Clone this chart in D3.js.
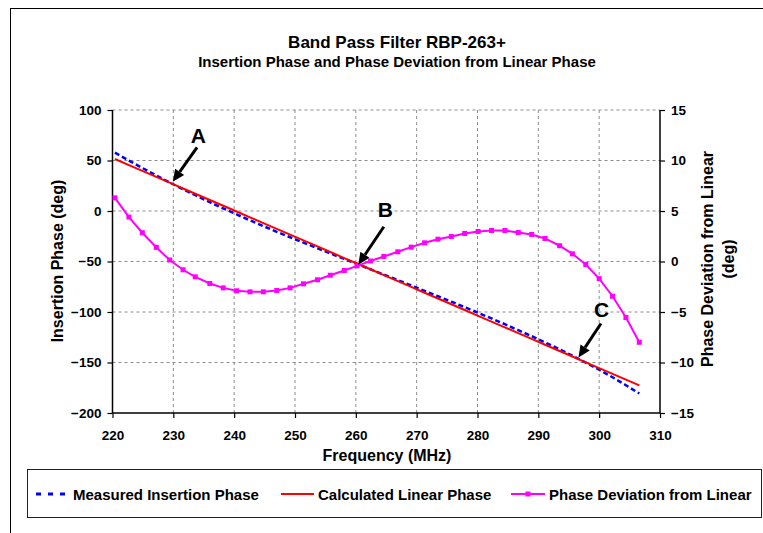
<!DOCTYPE html>
<html><head><meta charset="utf-8">
<script src="https://cdn.jsdelivr.net/npm/d3@7"></script>
<style>
html,body{margin:0;padding:0;background:#fff;}
text{font-family:"Liberation Sans",Arial,sans-serif;font-weight:bold;fill:#000;}
</style></head>
<body><svg id="c" width="763" height="533"></svg>
<script>
// ---- data ----
const freq = [220.4,222.7,224.9,227.2,229.4,231.6,233.6,236.0,238.2,240.4,242.6,244.8,247.0,249.2,251.4,253.7,255.8,258.1,260.2,262.4,264.6,266.9,269.1,271.3,273.5,275.7,277.9,280.1,282.3,284.5,286.7,288.9,291.1,293.5,295.6,297.8,300.0,302.2,304.4,306.6];
const measured = [57.8,49.9,42.6,35.2,28.2,21.5,15.6,8.7,2.6,-3.4,-9.3,-15.0,-20.6,-26.0,-31.3,-36.9,-42.0,-47.5,-52.4,-57.7,-63.0,-68.4,-73.8,-79.1,-84.4,-89.8,-95.2,-100.8,-106.4,-112.1,-118.0,-123.9,-130.1,-137.0,-143.3,-150.1,-157.2,-164.6,-172.5,-180.7];
const linear = [51.5,45.5,39.8,33.8,28.1,22.3,17.1,10.9,5.2,-0.5,-6.3,-12.0,-17.7,-23.4,-29.1,-35.1,-40.6,-46.6,-52.0,-57.7,-63.5,-69.4,-75.2,-80.9,-86.6,-92.3,-98.0,-103.8,-109.5,-115.2,-120.9,-126.6,-132.4,-138.6,-144.1,-149.8,-155.5,-161.2,-166.9,-172.7];
const deviation = [6.3,4.4,2.85,1.4,0.15,-0.82,-1.52,-2.18,-2.61,-2.9,-3.0,-3.0,-2.87,-2.61,-2.21,-1.81,-1.36,-0.89,-0.43,0.05,0.5,0.96,1.42,1.85,2.21,2.48,2.78,2.97,3.07,3.07,2.87,2.68,2.28,1.56,0.76,-0.3,-1.7,-3.44,-5.55,-8.0];
const xTicks = [220,230,240,250,260,270,280,290,300,310];
const yLeftTicks = [-200,-150,-100,-50,0,50,100];
const yRightTicks = [-15,-10,-5,0,5,10,15];
const titleLines = ["Band Pass Filter RBP-263+","Insertion Phase and Phase Deviation from Linear Phase"];
const seriesNames = ["Measured Insertion Phase","Calculated Linear Phase","Phase Deviation from Linear"];
// annotations: [label, tipFreq, tipPhase, tailFreq, tailPhase, labelFreq, labelPhase]
const annotations = [
  ["A",229.9,29,233.9,63,234.1,67],
  ["B",260.4,-53.2,264.6,-15.6,264.85,-5.6],
  ["C",296.6,-145,300.3,-111.4,300.4,-104.7]
];

// ---- layout ----
const svg = d3.select("#c");
const L = 112.5, R = 660, T = 110, B = 413;
const x = d3.scaleLinear().domain([220,310]).range([L,R]);
const yL = d3.scaleLinear().domain([-200,100]).range([B,T]);
const yR = d3.scaleLinear().domain([-15,15]).range([B,T]);

// outer frame (open at right/bottom)
svg.append("rect").attr("x",10.5).attr("y",8.5).attr("width",900).attr("height",700)
  .attr("fill","none").attr("stroke","#000").attr("stroke-width",1);

// title
const titleSize = [17,15];
svg.append("g").selectAll("text").data(titleLines).join("text")
  .attr("x",397).attr("y",(d,i)=>48+i*19).attr("text-anchor","middle")
  .style("font-size",(d,i)=>titleSize[i]+"px").text(d=>d);

// gridlines
const grid = svg.append("g").attr("stroke","#8c8c8c").attr("stroke-width",1).attr("stroke-dasharray","3,3");
grid.selectAll("line.v").data(xTicks.filter(d=>d>220&&d<310)).join("line")
  .attr("x1",d=>x(d)).attr("x2",d=>x(d)).attr("y1",T).attr("y2",B);
grid.selectAll("line.h").data(yLeftTicks.filter(d=>d>-200)).join("line")
  .attr("x1",L).attr("x2",R).attr("y1",d=>yL(d)).attr("y2",d=>yL(d));

// axes
const fmt = d3.format("d");
const axL = svg.append("g").attr("transform",`translate(${L},0)`)
  .call(d3.axisLeft(yL).tickValues(yLeftTicks).tickSize(5).tickPadding(6).tickFormat(fmt));
const axR = svg.append("g").attr("transform",`translate(${R},0)`)
  .call(d3.axisRight(yR).tickValues(yRightTicks).tickSize(5).tickPadding(6).tickFormat(fmt));
const axB = svg.append("g").attr("transform",`translate(0,${B})`)
  .call(d3.axisBottom(x).tickValues(xTicks).tickSize(5).tickPadding(12).tickFormat(fmt));
[axL,axR,axB].forEach(g=>{
  g.select(".domain").attr("stroke","#000").attr("stroke-width",1.5);
  g.selectAll(".tick line").attr("stroke","#000").attr("stroke-width",1.2);
  g.selectAll(".tick text").style("font-size","13.5px").style("font-family","Liberation Sans, Arial, sans-serif").style("font-weight","bold");
});
axL.select(".domain").attr("d",`M0,${T}V${B}`);
axR.select(".domain").attr("d",`M0,${T}V${B}`);
axB.select(".domain").attr("d",`M${L},0H${R}`);

// axis titles
svg.append("text").attr("transform","translate(62.5,261) rotate(-90)").attr("text-anchor","middle")
  .style("font-size","16px").text("Insertion Phase (deg)");
svg.append("text").attr("transform","translate(713,259) rotate(-90)").attr("text-anchor","middle")
  .style("font-size","16px").text("Phase Deviation from Linear");
svg.append("text").attr("transform","translate(734,259) rotate(-90)").attr("text-anchor","middle")
  .style("font-size","16px").text("(deg)");
svg.append("text").attr("x",387).attr("y",461).attr("text-anchor","middle")
  .style("font-size","16px").text("Frequency (MHz)");

// series
const idx = d3.range(freq.length);
const lineL = arr => d3.line().x(i=>x(freq[i])).y(i=>yL(arr[i]));
svg.append("path").datum(idx).attr("d",lineL(measured)).attr("fill","none")
  .attr("stroke","#0000ff").attr("stroke-width",2.5).attr("stroke-dasharray","5,3");
svg.append("path").datum(idx).attr("d",lineL(linear)).attr("fill","none")
  .attr("stroke","#ff0000").attr("stroke-width",2);
svg.append("path").datum(idx).attr("d",d3.line().x(i=>x(freq[i])).y(i=>yR(deviation[i]))).attr("fill","none")
  .attr("stroke","#ff00ff").attr("stroke-width",2);
svg.append("g").selectAll("rect").data(idx).join("rect")
  .attr("x",i=>x(freq[i])-2.5).attr("y",i=>yR(deviation[i])-2.5).attr("width",5).attr("height",5)
  .attr("fill","#ff00ff");

// annotations
const ann = svg.append("g");
annotations.forEach(a=>{
  const [lab,tf,tp,sf,sp,lf,lp] = a;
  const x1=x(sf), y1=yL(sp), x2=x(tf), y2=yL(tp);
  const ang = Math.atan2(y2-y1,x2-x1);
  const hl = 12, hw = 5.5;
  const bx = x2 - hl*Math.cos(ang), by = y2 - hl*Math.sin(ang);
  ann.append("line").attr("x1",x1).attr("y1",y1).attr("x2",bx).attr("y2",by)
    .attr("stroke","#000").attr("stroke-width",3);
  const px = -Math.sin(ang), py = Math.cos(ang);
  ann.append("path").attr("d",`M${x2},${y2}L${bx+px*hw},${by+py*hw}L${bx-px*hw},${by-py*hw}Z`).attr("fill","#000");
  ann.append("text").attr("x",x(lf)).attr("y",yL(lp)).attr("text-anchor","middle")
    .style("font-size","21px").text(lab);
});

// legend
const lg = svg.append("g");
lg.append("rect").attr("x",27.5).attr("y",469.5).attr("width",734).attr("height",48)
  .attr("fill","#fff").attr("stroke","#222").attr("stroke-width",1);
const ly = 494;
lg.append("line").attr("x1",36).attr("x2",66).attr("y1",ly).attr("y2",ly)
  .attr("stroke","#0000ff").attr("stroke-width",3).attr("stroke-dasharray","5,7");
lg.append("line").attr("x1",281).attr("x2",314).attr("y1",ly).attr("y2",ly)
  .attr("stroke","#ff0000").attr("stroke-width",2);
lg.append("line").attr("x1",511).attr("x2",545).attr("y1",ly).attr("y2",ly)
  .attr("stroke","#ff00ff").attr("stroke-width",2);
lg.append("rect").attr("x",525.5).attr("y",ly-2.5).attr("width",5).attr("height",5).attr("fill","#ff00ff");
const lx = [73,318,549];
lg.selectAll("text").data(seriesNames).join("text")
  .attr("x",(d,i)=>lx[i]).attr("y",ly+5.5).style("font-size","15px").text(d=>d);
</script></body></html>
